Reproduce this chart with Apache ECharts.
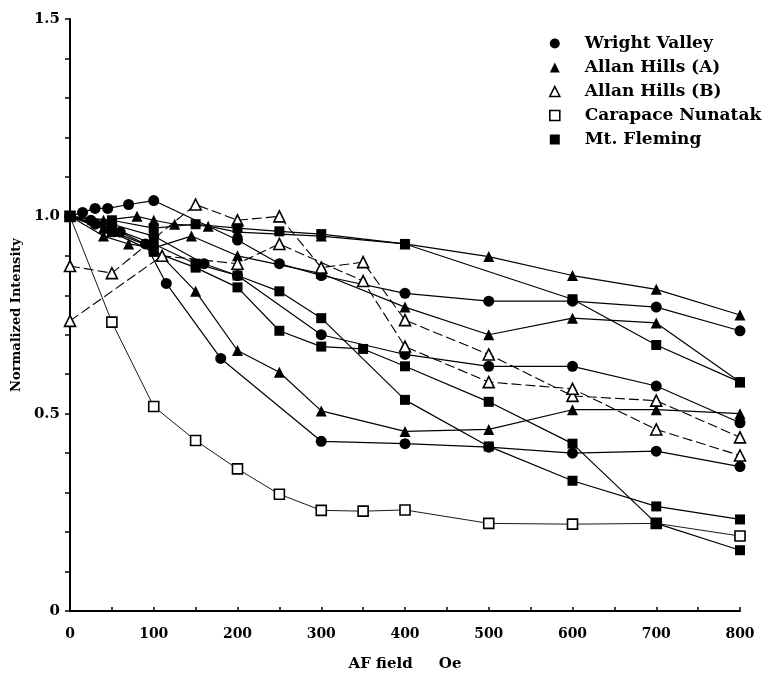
<!DOCTYPE html>
<html>
<head>
<meta charset="utf-8">
<script src="https://cdn.jsdelivr.net/npm/echarts@6/dist/echarts.min.js"></script>
<style>
  html, body { margin: 0; padding: 0; background: #fff; }
  #chart { width: 778px; height: 677px; }
</style>
</head>
<body>
<div id="chart"></div>
<script>
// [AF field (Oe), normalized intensity]
var wrightValley1 = [[0,1.0],[15,1.01],[30,1.02],[45,1.02],[70,1.03],[100,1.04],[200,0.94],[250,0.88],[300,0.85],[400,0.805],[500,0.785],[600,0.785],[700,0.77],[800,0.71]];
var wrightValley2 = [[0,1.0],[25,0.99],[50,0.98],[100,0.95],[160,0.88],[200,0.85],[300,0.70],[400,0.65],[500,0.62],[600,0.62],[700,0.57],[800,0.477]];
var wrightValley3 = [[0,1.0],[30,0.98],[60,0.96],[90,0.93],[115,0.83],[180,0.64],[300,0.43],[400,0.424],[500,0.415],[600,0.40],[700,0.405],[800,0.366]];

var allanA1 = [[0,1.0],[40,0.99],[80,1.0],[100,0.99],[125,0.98],[165,0.975],[200,0.96],[300,0.95],[400,0.93],[500,0.898],[600,0.85],[700,0.815],[800,0.75]];
var allanA2 = [[0,1.0],[40,0.95],[70,0.93],[100,0.92],[145,0.95],[200,0.90],[300,0.855],[400,0.77],[500,0.70],[600,0.742],[700,0.73],[800,0.58]];
var allanA3 = [[0,1.0],[40,0.97],[100,0.92],[150,0.81],[200,0.66],[250,0.605],[300,0.507],[400,0.455],[500,0.46],[600,0.51],[700,0.51],[800,0.50]];

var allanB1 = [[0,0.874],[50,0.856],[150,1.03],[200,0.99],[250,1.0],[300,0.87],[350,0.884],[400,0.737],[500,0.65],[600,0.545],[700,0.533],[800,0.44]];
var allanB2 = [[0,0.735],[110,0.90],[200,0.88],[250,0.93],[350,0.836],[400,0.67],[500,0.58],[600,0.563],[700,0.46],[800,0.394]];

var carapace = [[0,1.0],[50,0.732],[100,0.518],[150,0.432],[200,0.36],[250,0.296],[300,0.255],[350,0.253],[400,0.256],[500,0.222],[600,0.22],[700,0.222],[800,0.19]];

var fleming1 = [[0,1.0],[50,0.99],[100,0.97],[150,0.98],[200,0.97],[250,0.962],[300,0.955],[400,0.93],[600,0.79],[700,0.674],[800,0.58]];
var fleming2 = [[0,1.0],[50,0.97],[100,0.93],[150,0.88],[200,0.85],[250,0.81],[300,0.742],[400,0.535],[500,0.417],[600,0.33],[700,0.265],[800,0.232]];
var fleming3 = [[0,1.0],[50,0.96],[100,0.91],[150,0.87],[200,0.82],[250,0.71],[300,0.67],[350,0.664],[400,0.62],[500,0.53],[600,0.424],[700,0.222],[800,0.154]];

var sites = ['Wright Valley', 'Allan Hills (A)', 'Allan Hills (B)', 'Carapace Nunatak', 'Mt. Fleming'];

var groups = [
  { name: sites[0], curves: [wrightValley1, wrightValley2, wrightValley3], symbol: 'circle', size: 11, open: false, dash: 'solid', width: 1.2 },
  { name: sites[1], curves: [allanA1, allanA2, allanA3], symbol: 'triangle', size: 11, open: false, dash: 'solid', width: 1.2 },
  { name: sites[2], curves: [allanB1, allanB2], symbol: 'triangle', size: 11, open: true, dash: [10, 4], width: 1.1 },
  { name: sites[3], curves: [carapace], symbol: 'rect', size: 10, open: true, dash: 'solid', width: 0.9 },
  { name: sites[4], curves: [fleming1, fleming2, fleming3], symbol: 'rect', size: 10, open: false, dash: 'solid', width: 1.2 }
];

var font = 'DejaVu Serif';

function markStyle(g) {
  return g.open
    ? { color: '#fff', borderColor: '#000', borderWidth: 1.6 }
    : { color: '#000', borderColor: '#000', borderWidth: 0 };
}

var series = [];
groups.forEach(function (g) {
  g.curves.forEach(function (c) {
    series.push({
      name: g.name,
      type: 'line',
      data: c,
      symbol: g.symbol,
      symbolSize: g.size,
      showAllSymbol: true,
      lineStyle: { color: '#000', width: g.width, type: g.dash },
      itemStyle: markStyle(g),
      emphasis: { disabled: true }
    });
  });
});

var chart = echarts.init(document.getElementById('chart'));

var option = {
  backgroundColor: '#fff',
  animation: false,
  grid: {
    left: 70,
    right: 38,
    top: 19,
    bottom: 63
  },
  legend: {
    orient: 'vertical',
    left: 544,
    top: 30,
    itemWidth: 10,
    itemHeight: 10,
    itemGap: 7,
    textStyle: {
      fontFamily: font,
      fontWeight: 'bold',
      fontSize: 17,
      color: '#000',
      padding: [0, 0, 0, 20]
    },
    data: groups.map(function (g) {
      return { name: g.name, icon: g.symbol, itemStyle: markStyle(g) };
    })
  },
  xAxis: {
    type: 'value',
    min: 0,
    max: 800,
    interval: 50,
    name: 'AF field     Oe',
    nameLocation: 'middle',
    nameGap: 46,
    nameTextStyle: { fontFamily: font, fontWeight: 'bold', fontSize: 15, color: '#000' },
    axisLine: { lineStyle: { color: '#000', width: 2 } },
    axisTick: { inside: true, length: 4, lineStyle: { color: '#000', width: 1.5 } },
    axisLabel: {
      fontFamily: font,
      fontWeight: 'bold',
      fontSize: 14,
      color: '#000',
      margin: 16,
      formatter: function (v) { return v % 100 === 0 ? String(v) : ''; }
    },
    splitLine: { show: false }
  },
  yAxis: {
    type: 'value',
    min: 0,
    max: 1.5,
    interval: 0.1,
    name: 'Normalized Intensity',
    nameLocation: 'middle',
    nameGap: 45,
    nameTextStyle: { fontFamily: font, fontWeight: 'bold', fontSize: 13, color: '#000' },
    axisLine: { show: true, lineStyle: { color: '#000', width: 2 } },
    axisTick: { length: 5, lineStyle: { color: '#000', width: 1.5 } },
    axisLabel: {
      fontFamily: font,
      fontWeight: 'bold',
      fontSize: 15,
      color: '#000',
      margin: 10,
      formatter: function (v) {
        var r = Math.round(v * 10);
        if (r % 5 !== 0) return '';
        return r === 0 ? '0' : (r / 10).toFixed(1);
      }
    },
    splitLine: { show: false }
  },
  series: series
};

chart.setOption(option);
</script>
</body>
</html>
